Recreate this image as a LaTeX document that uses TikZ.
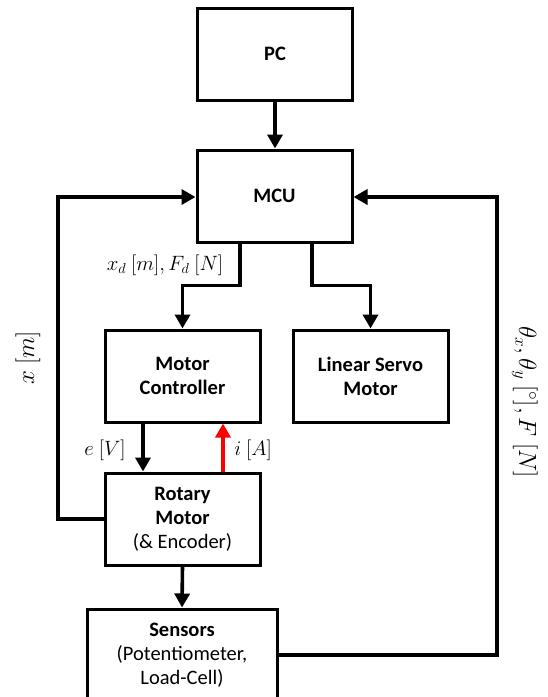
\documentclass[tikz,border=0pt]{standalone}
\usepackage{fontspec}
\setmainfont{Carlito}
\usetikzlibrary{arrows.meta,calc}
\begin{document}
\begin{tikzpicture}[x=1pt,y=-1pt,
  blk/.style={draw,line width=3pt,minimum width=155pt,minimum height=92pt,align=center,inner sep=0pt,font=\fontsize{20.5}{24}\selectfont},
  conn/.style={line width=3.6pt,-{Triangle[width=15pt,length=14pt]}},
  lbl/.style={font=\fontsize{22}{26}\selectfont,inner sep=0pt},
  biglbl/.style={font=\fontsize{26.5}{30}\selectfont,inner sep=0pt}]
\clip (0,0) rectangle (548,697);
\useasboundingbox (0,0) rectangle (548,697);
\node[blk] (pc) at (275,54) {\textbf{PC}};
\node[blk] (mcu) at (274.5,196) {\textbf{MCU}};
\node[blk] (mc) at (182.5,376) {\textbf{Motor}\\\textbf{Controller}};
\node[blk] (ls) at (370.5,376) {\textbf{Linear Servo}\\\textbf{Motor}};
\node[blk] (rm) at (182.5,519) {\textbf{Rotary}\\\textbf{Motor}\\(\& Encoder)};
\node[blk,minimum width=190pt] (se) at (182,655) {\textbf{Sensors}\\(Potentiometer,\\Load-Cell)};
\coordinate (lk) at (58,197);
\coordinate (rk) at (497,197);
\draw[conn] (pc.south) -- (pc.south |- mcu.north);
\draw[conn] ([xshift=-34.5pt]mcu.south) -- ++(0,42) -| (mc.north);
\draw[conn] ([xshift=37.5pt]mcu.south) -- ++(0,42) -| (ls.north);
\draw[conn] ([xshift=-39.5pt]mc.south) -- ([xshift=-39.5pt]rm.north);
\draw[conn,red] ([xshift=40.5pt]rm.north) -- ([xshift=40.5pt]mc.south);
\draw[conn] (rm.south) -- (se.north);
\draw[conn] (rm.west) -| (lk) -- (mcu.west |- lk);
\draw[conn] (se.east) -| (rk) -- (mcu.east |- rk);
\node[lbl] (l1) at (165,265) {$x_d\ [m], F_d\ [N]$};
\node[lbl] (l2) at (105,450) {$e\ [V]$};
\node[lbl] (l3) at (253,450) {$i\ [A]$};
\node[biglbl,rotate=90] (l4) at (28,358) {$x\ [m]$};
\node[biglbl,rotate=-90] (l5) at (525,402) {$\theta_x, \theta_y\ [^\circ], F\ [N]$};
\end{tikzpicture}
\end{document}
